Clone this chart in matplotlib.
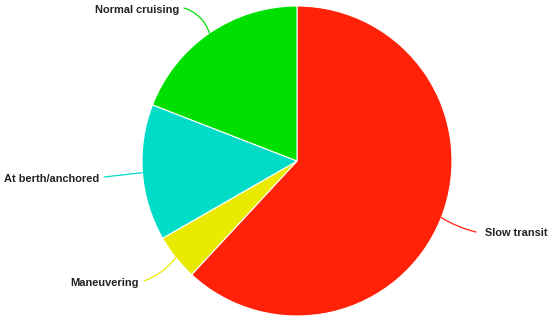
import numpy as np
import matplotlib.pyplot as plt

labels = ["Slow transit", "Maneuvering", "At berth/anchored", "Normal cruising"]
shares = [61.9, 4.8, 14.2, 19.1]
colors = ["#ff2208", "#eaea00", "#00dcc8", "#00e000"]

plt.rcParams['font.family'] = ['Liberation Sans', 'DejaVu Sans']

fig = plt.figure(figsize=(5.5, 3.25), dpi=100)
ax = fig.add_axes([0, 0, 1, 1])

# pixel -> data helpers (center at 297,161 px, radius 155 px)
cx, cy, r = 297, 161, 155
def px(x, y):
    return ((x - cx) / r, (cy - y) / r)

wedges, _ = ax.pie(shares, colors=colors, startangle=90, counterclock=False,
                   radius=1, center=(0, 0),
                   wedgeprops=dict(edgecolor="white", linewidth=0.8))

ax.set_xlim(-cx / r, (550 - cx) / r)
ax.set_ylim(-(325 - cy) / r, cy / r)
ax.set_aspect('auto')
ax.axis('off')

# label placement: text anchor (px), alignment, curvature of leader
label_pos = {
    "Slow transit": ((485, 233), 'left', -0.08),
    "Maneuvering": ((139, 283), 'right', 0.15),
    "At berth/anchored": ((99, 179), 'right', 0.0),
    "Normal cruising": ((179, 10), 'right', -0.25),
}

for w, lab, col in zip(wedges, labels, colors):
    ang = np.deg2rad((w.theta1 + w.theta2) / 2)
    edge = (np.cos(ang), np.sin(ang))
    (tx, ty), ha, rad = label_pos[lab]
    ax.text(*px(tx, ty), lab, ha=ha, va='center', fontsize=7.9,
            fontweight='bold', color='#222222')
    start = px(tx + 5, ty - 2) if ha == 'right' else px(tx - 9, ty - 1)
    ax.annotate("", xy=edge, xytext=start,
                arrowprops=dict(arrowstyle='-', color=col, lw=0.9,
                                shrinkA=0, shrinkB=0,
                                connectionstyle=f"arc3,rad={rad}"))

fig.savefig("out.png", dpi=100)
